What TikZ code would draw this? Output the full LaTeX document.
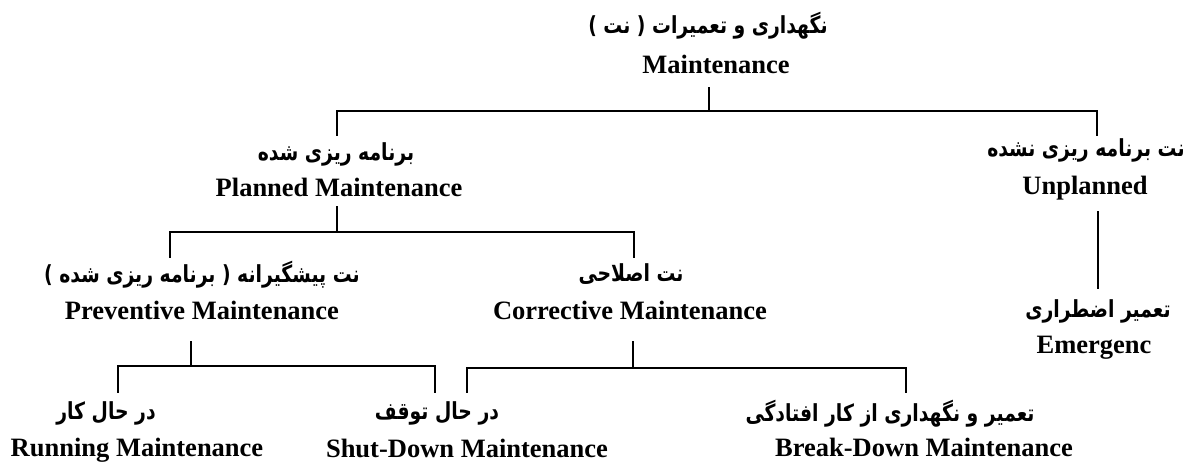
\documentclass[tikz,border=0pt]{standalone}
\usepackage{fontspec}
\usepackage{graphicx}
\setmainfont{Liberation Serif}
\newfontfamily\farsifont[Script=Arabic]{DejaVu Sans}
\TeXXeTstate=1
\usetikzlibrary{calc}
% Persian label: bold, right to left, a little narrower than the font
\newcommand\fatxt[1]{\scalebox{0.8}[1]{\farsifont\bfseries #1}}
\begin{document}
\begin{tikzpicture}[x=1pt,y=-1pt,
  en/.style={anchor=base, inner sep=0pt, font=\fontsize{26.5}{30}\selectfont\bfseries},
  fa/.style={anchor=base, inner sep=0pt, font=\fontsize{23.5}{28}\selectfont},
  link/.style={line width=2.5pt, line cap=rect}]
\useasboundingbox (0,0) rectangle (1184,462);

% labels: Persian line above, English line below
\node[fa] (fa-top) at (708,34)  {\fatxt{\beginR نگهداری و تعمیرات ( نت )\endR}};
\node[en] (en-top) at (716,74)  {Maintenance};
\node[fa] (fa-pl)  at (336,161) {\fatxt{\beginR برنامه ریزی شده\endR}};
\node[en] (en-pl)  at (339,197) {Planned Maintenance};
\node[fa] (fa-un)  at (1086,157) {\fatxt{\beginR نت برنامه ریزی نشده\endR}};
\node[en] (en-un)  at (1085,195) {Unplanned};
\node[fa] (fa-pv)  at (202,283) {\fatxt{\beginR نت پیشگیرانه ( برنامه ریزی شده )\endR}};
\node[en] (en-pv)  at (202,320) {Preventive Maintenance};
\node[fa] (fa-co)  at (631,282) {\fatxt{\beginR نت اصلاحی\endR}};
\node[en] (en-co)  at (630,320) {Corrective Maintenance};
\node[fa] (fa-em)  at (1098,318) {\fatxt{\beginR تعمیر اضطراری\endR}};
\node[en] (en-em)  at (1094,354) {Emergenc};
\node[fa] (fa-ru)  at (106,420) {\fatxt{\beginR در حال کار\endR}};
\node[en] (en-ru)  at (137,456) {Running Maintenance};
\node[fa] (fa-sd)  at (437,420) {\fatxt{\beginR در حال توقف\endR}};
\node[en] (en-sd)  at (467,457) {Shut-Down Maintenance};
\node[fa] (fa-bd)  at (890,421) {\fatxt{\beginR تعمیر و نگهداری از کار افتادگی\endR}};
\node[en] (en-bd)  at (924,456) {Break-Down Maintenance};

% connector end points
\coordinate (top-d) at (709,88);
\coordinate (top-j) at (709,111);
\coordinate (pl-t)  at (337,135);
\coordinate (un-t)  at (1097,135);
\coordinate (pl-d)  at (337,207);
\coordinate (pl-j)  at (337,232);
\coordinate (pv-t)  at (170,257);
\coordinate (co-t)  at (634,257);
\coordinate (un-d)  at (1098,212);
\coordinate (em-t)  at (1098,288);
\coordinate (pv-d)  at (191,342);
\coordinate (pv-j)  at (191,366);
\coordinate (ru-t)  at (118,392);
\coordinate (sd-t)  at (435,392);
\coordinate (co-d)  at (633,342);
\coordinate (co-j)  at (633,368);
\coordinate (sd-c)  at (467,392);
\coordinate (bd-t)  at (906,392);

% tree connectors
\draw[link] (top-d) -- (top-j);
\draw[link] (pl-t) |- (top-j) -| (un-t);
\draw[link] (pl-d) -- (pl-j);
\draw[link] (pv-t) |- (pl-j) -| (co-t);
\draw[link] (un-d) -- (em-t);
\draw[link] (pv-d) -- (pv-j);
\draw[link] (ru-t) |- (pv-j) -| (sd-t);
\draw[link] (co-d) -- (co-j);
\draw[link] (sd-c) |- (co-j) -| (bd-t);
\end{tikzpicture}
\end{document}
